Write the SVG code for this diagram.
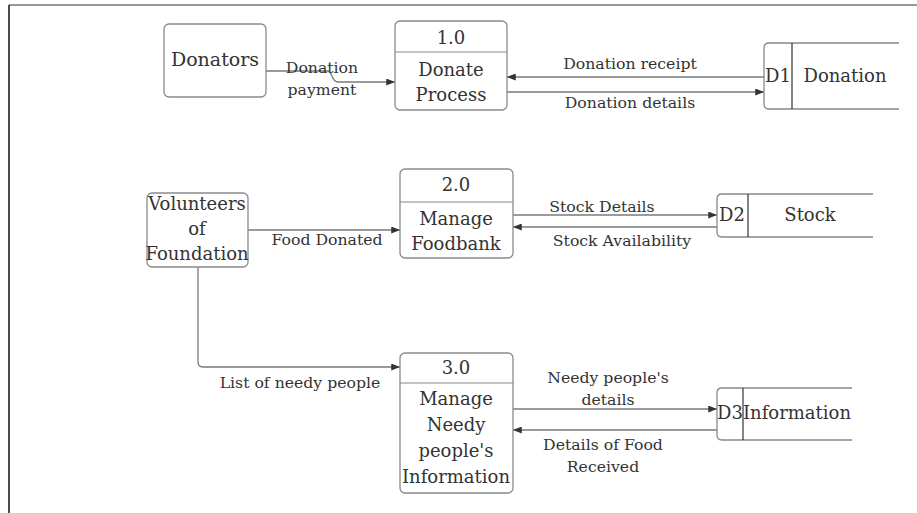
<svg xmlns="http://www.w3.org/2000/svg" width="917" height="513" viewBox="0 0 917 513">
  <defs>
    <marker id="arrow" viewBox="0 0 10 8" refX="10" refY="4" markerWidth="9" markerHeight="7" markerUnits="userSpaceOnUse" orient="auto">
      <path d="M0,0 L10,4 L0,8 Z" fill="#333"/>
    </marker>
    <style>
      .box { fill: #fff; stroke: #8a8a8a; stroke-width: 1.3; }
      .div { stroke: #8a8a8a; stroke-width: 1.2; }
      .store { fill: none; stroke: #888; stroke-width: 1.3; }
      .sdiv { stroke: #333; stroke-width: 1.2; }
      .flow { fill: none; stroke: #7a7a7a; stroke-width: 1.3; }
      .node { font-family: "DejaVu Serif", "Liberation Serif", serif; font-size: 18px; fill: #333; text-anchor: middle; }
      .lbl { font-family: "DejaVu Serif", "Liberation Serif", serif; font-size: 15.7px; fill: #333; text-anchor: middle; }
    </style>
  </defs>

  <rect width="917" height="513" fill="#fff"/>

  <!-- page frame -->
  <line x1="9" y1="5" x2="917" y2="5" stroke="#777" stroke-width="1.5"/>
  <line x1="9" y1="5" x2="9" y2="513" stroke="#111" stroke-width="1.5"/>

  <!-- connectors -->
  <g id="connectors">
    <path class="flow" d="M266,71 H327 C333,71 331,82 338,82 H395" marker-end="url(#arrow)"/>
    <path class="flow" d="M764,77 H507" marker-end="url(#arrow)"/>
    <path class="flow" d="M507,92 H764" marker-end="url(#arrow)"/>
    <path class="flow" d="M248,230 H400" marker-end="url(#arrow)"/>
    <path class="flow" d="M513,215 H717" marker-end="url(#arrow)"/>
    <path class="flow" d="M717,227 H513" marker-end="url(#arrow)"/>
    <path class="flow" d="M198,267 V362 Q198,367 203,367 H400" marker-end="url(#arrow)"/>
    <path class="flow" d="M513,409 H717" marker-end="url(#arrow)"/>
    <path class="flow" d="M717,430 H513" marker-end="url(#arrow)"/>

    <text class="lbl" x="322" y="73">Donation</text>
    <text class="lbl" x="322" y="95">payment</text>
    <text class="lbl" x="630" y="69">Donation receipt</text>
    <text class="lbl" x="630" y="108">Donation details</text>
    <text class="lbl" x="327" y="245">Food Donated</text>
    <text class="lbl" x="602" y="212">Stock Details</text>
    <text class="lbl" x="622" y="246">Stock Availability</text>
    <text class="lbl" x="300" y="388">List of needy people</text>
    <text class="lbl" x="608" y="383">Needy people's</text>
    <text class="lbl" x="608" y="405">details</text>
    <text class="lbl" x="603" y="450">Details of Food</text>
    <text class="lbl" x="603" y="472">Received</text>
  </g>

  <!-- external entities -->
  <g id="donators">
    <rect class="box" x="164" y="24" width="102" height="73" rx="5"/>
    <text class="node" x="215" y="66" style="font-size:19px">Donators</text>
  </g>

  <g id="volunteers">
    <rect class="box" x="147" y="193" width="101" height="74" rx="5"/>
    <text class="node" x="197" y="210">Volunteers</text>
    <text class="node" x="197" y="235">of</text>
    <text class="node" x="197" y="260">Foundation</text>
  </g>

  <!-- processes -->
  <g id="process-1">
    <rect class="box" x="395" y="21" width="112" height="89" rx="5"/>
    <line class="div" x1="395" y1="52" x2="507" y2="52"/>
    <text class="node" x="451" y="44">1.0</text>
    <text class="node" x="451" y="76">Donate</text>
    <text class="node" x="451" y="101">Process</text>
  </g>

  <g id="process-2">
    <rect class="box" x="400" y="169" width="113" height="89" rx="5"/>
    <line class="div" x1="400" y1="202" x2="513" y2="202"/>
    <text class="node" x="456" y="191">2.0</text>
    <text class="node" x="456" y="225">Manage</text>
    <text class="node" x="456" y="250">Foodbank</text>
  </g>

  <g id="process-3">
    <rect class="box" x="400" y="353" width="113" height="140" rx="5"/>
    <line class="div" x1="400" y1="383" x2="513" y2="383"/>
    <text class="node" x="456" y="374">3.0</text>
    <text class="node" x="456" y="405">Manage</text>
    <text class="node" x="456" y="431">Needy</text>
    <text class="node" x="456" y="457">people's</text>
    <text class="node" x="456" y="483">Information</text>
  </g>

  <!-- data stores -->
  <g id="store-d1">
    <path class="store" d="M899,43 H769 Q764,43 764,48 V104 Q764,109 769,109 H899"/>
    <line class="sdiv" x1="792" y1="43" x2="792" y2="109"/>
    <text class="node" x="778" y="82">D1</text>
    <text class="node" x="845" y="82">Donation</text>
  </g>

  <g id="store-d2">
    <path class="store" d="M873,194 H722 Q717,194 717,199 V232 Q717,237 722,237 H873"/>
    <line class="sdiv" x1="748" y1="194" x2="748" y2="237"/>
    <text class="node" x="732" y="221">D2</text>
    <text class="node" x="810" y="221">Stock</text>
  </g>

  <g id="store-d3">
    <path class="store" d="M852,388 H722 Q717,388 717,393 V435 Q717,440 722,440 H852"/>
    <line class="sdiv" x1="743" y1="388" x2="743" y2="440"/>
    <text class="node" x="730" y="419">D3</text>
    <text class="node" x="797" y="419">Information</text>
  </g>
</svg>
